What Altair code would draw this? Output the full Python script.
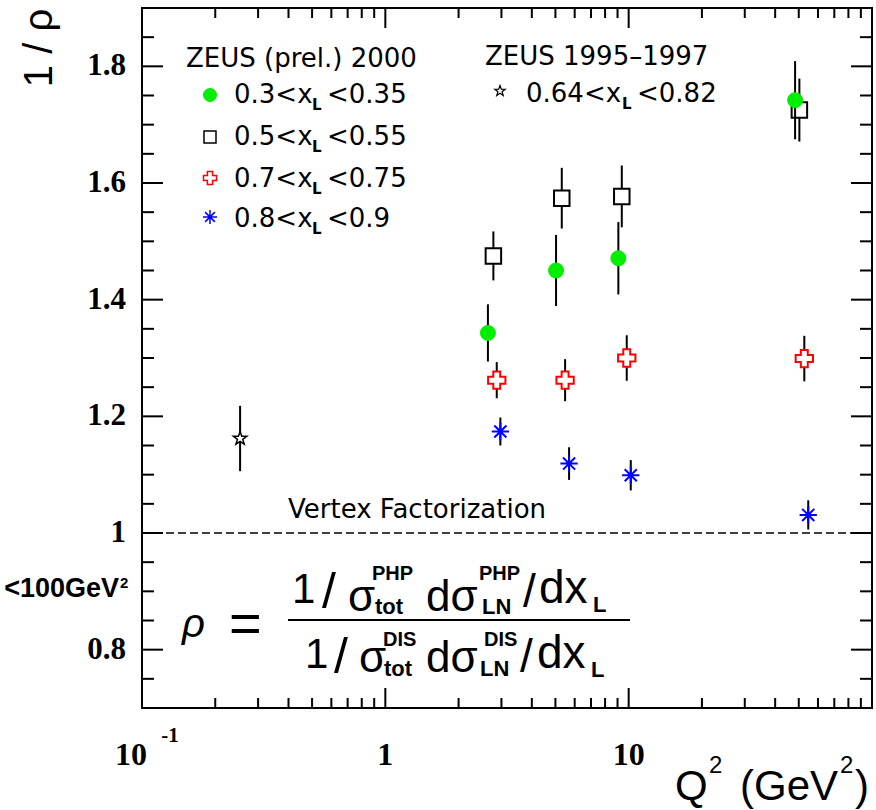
import altair as alt
import pandas as pd

# ZEUS (prel.) 2000 : 1/rho versus Q^2 for four leading-neutron x_L bins
q2_xl030 = [2.64, 5.03, 9.07, 48.3]        # 0.3 < x_L < 0.35
rinv_xl030 = [1.343, 1.450, 1.471, 1.742]
err_xl030 = [0.049, 0.061, 0.062, 0.067]

q2_xl050 = [2.78, 5.31, 9.37, 50.3]        # 0.5 < x_L < 0.55
rinv_xl050 = [1.475, 1.574, 1.577, 1.725]
err_xl050 = [0.042, 0.052, 0.053, 0.054]

q2_xl070 = [2.87, 5.48, 9.82, 52.7]        # 0.7 < x_L < 0.75
rinv_xl070 = [1.262, 1.262, 1.300, 1.299]
err_xl070 = [0.031, 0.036, 0.039, 0.039]

q2_xl080 = [2.97, 5.69, 10.2, 54.7]        # 0.8 < x_L < 0.9
rinv_xl080 = [1.174, 1.119, 1.099, 1.031]
err_xl080 = [0.024, 0.028, 0.026, 0.025]

# ZEUS 1995-1997 : 0.64 < x_L < 0.82
q2_old = [0.253]
rinv_old = [1.162]
err_old = [0.056]

# vertex factorization expectation
factorization_level = [1.0]

# axis ticks and their labels
y_major = [0.8, 1.0, 1.2, 1.4, 1.6, 1.8]
y_tick_text = ["0.8", "1", "1.2", "1.4", "1.6", "1.8"]
y_minor = [0.75, 0.85, 0.9, 0.95, 1.05, 1.1, 1.15, 1.25, 1.3, 1.35, 1.45,
           1.5, 1.55, 1.65, 1.7, 1.75, 1.85]
x_major = [1, 10]
x_minor = [0.2, 0.3, 0.4, 0.5, 0.6, 0.7, 0.8, 0.9,
           2, 3, 4, 5, 6, 7, 8, 9,
           20, 30, 40, 50, 60, 70, 80, 90]
x_tick_values = [1, 10]
x_tick_text = ["1", "10"]

# ---------------------------------------------------------------- layout
LEFT, TOP, W, H = 142, 8, 730, 700
SERIF = "Liberation Serif"
SANS = "Liberation Sans"
LEG = "DejaVu Sans"
GREEN, RED, BLUE = "#00ee00", "#ff0000", "#0000ff"
ASTERISK = "M-1,0L1,0M0,-1L0,1M-0.7,-0.7L0.7,0.7M-0.7,0.7L0.7,-0.7"
STAR = ("M0,-1L0.235,-0.324L0.951,-0.309L0.38,0.124L0.588,0.809L0,0.4"
        "L-0.588,0.809L-0.38,0.124L-0.951,-0.309L-0.235,-0.324Z")

XS = alt.Scale(type="log", domain=[0.1, 100], nice=False)
YS = alt.Scale(domain=[0.7, 1.9], nice=False, zero=False)
ONE = alt.Data(values=[{"k": 0}])


def text(t, x, y, size, font=SANS, weight="normal", align="left",
         style="normal", angle=0, baseline="alphabetic"):
    """Text placed in page pixels."""
    return alt.Chart(ONE).mark_text(
        align=align, baseline=baseline, font=font, fontSize=size,
        fontWeight=weight, fontStyle=style, angle=angle, color="black"
    ).encode(x=alt.value(x - LEFT), y=alt.value(y - TOP), text=alt.value(t))


def y_ticks(values, length):
    src = alt.Chart(pd.DataFrame({"v": values}))
    left = src.mark_rule(color="black", strokeWidth=2).encode(
        y=alt.Y("v:Q", scale=YS, axis=None), x=alt.value(0), x2=alt.value(length))
    right = src.mark_rule(color="black", strokeWidth=2).encode(
        y=alt.Y("v:Q", scale=YS, axis=None), x=alt.value(W - length), x2=alt.value(W))
    return [left, right]


def x_ticks(values, length):
    src = alt.Chart(pd.DataFrame({"v": values}))
    bottom = src.mark_rule(color="black", strokeWidth=2).encode(
        x=alt.X("v:Q", scale=XS, axis=None), y=alt.value(H - length), y2=alt.value(H))
    top = src.mark_rule(color="black", strokeWidth=2).encode(
        x=alt.X("v:Q", scale=XS, axis=None), y=alt.value(0), y2=alt.value(length))
    return [bottom, top]


def series(q2, r, err, shape, size, fill, stroke, sw, filled=True):
    df = pd.DataFrame({"q2": q2, "r": r})
    df["lo"] = [a - e for a, e in zip(r, err)]
    df["hi"] = [a + e for a, e in zip(r, err)]
    src = alt.Chart(df)
    bars = src.mark_rule(color="black", strokeWidth=2).encode(
        x=alt.X("q2:Q", scale=XS, axis=None),
        y=alt.Y("lo:Q", scale=YS, axis=None), y2="hi:Q")
    pts = src.mark_point(shape=shape, size=size, filled=filled, fill=fill,
                         stroke=stroke, strokeWidth=sw, opacity=1).encode(
        x=alt.X("q2:Q", scale=XS, axis=None),
        y=alt.Y("r:Q", scale=YS, axis=None))
    return [bars, pts]


def legend_marker(x, y, shape, size, fill, stroke, sw, filled=True):
    return alt.Chart(ONE).mark_point(shape=shape, size=size, filled=filled, fill=fill,
                                     stroke=stroke, strokeWidth=sw, opacity=1).encode(
        x=alt.value(x - LEFT), y=alt.value(y - TOP))


layers = []

# inward ticks on all four sides
layers += y_ticks(y_major, 21)
layers += y_ticks(y_minor, 12)
layers += x_ticks(x_major, 20)
layers += x_ticks(x_minor, 10)

# y tick labels
layers.append(
    alt.Chart(pd.DataFrame({"v": y_major, "t": y_tick_text})).mark_text(
        font=SERIF, fontWeight="bold", fontSize=31, baseline="middle",
        align="right", color="black").encode(
        y=alt.Y("v:Q", scale=YS, axis=None), x=alt.value(126 - LEFT), text="t:N"))

# x tick labels
layers.append(
    alt.Chart(pd.DataFrame({"q": x_tick_values, "t": x_tick_text})).mark_text(
        font=SERIF, fontWeight="bold", fontSize=32, baseline="alphabetic",
        align="center", color="black").encode(
        x=alt.X("q:Q", scale=XS, axis=None), y=alt.value(765 - TOP), text="t:N"))
layers.append(text("10", 131, 765, 32, font=SERIF, weight="bold", align="center"))
layers.append(text("-1", 170, 742, 21, font=SERIF, weight="bold", align="center"))

# factorization line
layers.append(
    alt.Chart(pd.DataFrame({"v": factorization_level})).mark_rule(
        color="black", strokeWidth=1.5, strokeDash=[8, 4]).encode(
        y=alt.Y("v:Q", scale=YS, axis=None), x=alt.value(0), x2=alt.value(W)))
layers.append(text("Vertex Factorization", 288, 518, 26, font=LEG))

# data
layers += series(q2_xl050, rinv_xl050, err_xl050, "square", 240, "white", "black", 2)
layers += series(q2_xl030, rinv_xl030, err_xl030, "circle", 225, GREEN, GREEN, 1)
layers += series(q2_xl070, rinv_xl070, err_xl070, "cross", 300, "white", RED, 2)
layers += series(q2_xl080, rinv_xl080, err_xl080, ASTERISK, 300, "none", BLUE, 2, filled=False)
layers += series(q2_old, rinv_old, err_old, STAR, 200, "white", "black", 1.5)

# axis titles
layers.append(text("1 / ρ", 52, 48, 40, angle=270, align="center"))
layers.append(text("Q", 675, 800, 42))
layers.append(text("2", 709, 773, 24))
layers.append(text("(GeV", 740, 800, 42))
layers.append(text("2", 840, 773, 24))
layers.append(text(")", 855, 800, 42))
layers.append(text("<100GeV", 119, 597, 27, weight="bold", align="right"))
layers.append(text("2", 120, 588, 15, weight="bold"))

# legend: ZEUS (prel.) 2000
layers.append(text("ZEUS (prel.) 2000", 186, 67, 26, font=LEG))
legend_rows = [
    ("0.3<x", "<0.35", 103, 95, "circle", 169, GREEN, GREEN, 1, True),
    ("0.5<x", "<0.55", 145, 137, "square", 144, "white", "black", 1.5, True),
    ("0.7<x", "<0.75", 187, 178, "cross", 169, "white", RED, 1.5, True),
    ("0.8<x", "<0.9", 227, 217, ASTERISK, 196, "none", BLUE, 1.5, False),
]
for pre, post, base, my, shp, sz, fl, st, sw, fd in legend_rows:
    layers.append(legend_marker(210, my, shp, sz, fl, st, sw, fd))
    layers.append(text(pre, 234, base, 26, font=LEG))
    layers.append(text("L", 312, base + 7, 15, font=LEG, weight="bold"))
    layers.append(text(post, 327, base, 26, font=LEG))

# legend: ZEUS 1995-1997
layers.append(text("ZEUS 1995–1997", 485, 65, 26, font=LEG))
layers.append(legend_marker(500, 91, STAR, 120, "white", "black", 1.2))
layers.append(text("0.64<x", 526, 102, 26, font=LEG))
layers.append(text("L", 622, 109, 15, font=LEG, weight="bold"))
layers.append(text("<0.82", 637, 102, 26, font=LEG))

# definition of rho
layers.append(text("ρ", 182, 637, 40, style="italic"))
layers.append(text("=", 229, 642, 56))
layers.append(alt.Chart(ONE).mark_rule(color="black", strokeWidth=2).encode(
    x=alt.value(288 - LEFT), x2=alt.value(630 - LEFT), y=alt.value(620 - TOP)))
formula = [
    # numerator
    ("1", 292, 603, 42, "normal"), ("/", 322, 608, 50, "normal"),
    ("σ", 348, 611, 44, "normal"), ("PHP", 372, 580, 20, "bold"),
    ("tot", 375, 614, 22, "bold"), ("dσ", 426, 611, 44, "normal"),
    ("PHP", 479, 580, 20, "bold"), ("LN", 482, 614, 22, "bold"),
    ("/", 523, 607, 46, "normal"), ("dx", 539, 603, 46, "normal"),
    ("L", 593, 612, 22, "bold"),
    # denominator
    ("1", 305, 668, 42, "normal"), ("/", 334, 673, 50, "normal"),
    ("σ", 359, 672, 44, "normal"), ("DIS", 383, 646, 20, "bold"),
    ("tot", 384, 676, 22, "bold"), ("dσ", 426, 672, 44, "normal"),
    ("DIS", 484, 646, 20, "bold"), ("LN", 480, 676, 22, "bold"),
    ("/", 520, 672, 46, "normal"), ("dx", 537, 668, 46, "normal"),
    ("L", 591, 677, 22, "bold"),
]
for t, x, y, s, wgt in formula:
    layers.append(text(t, x, y, s, weight=wgt))

chart = alt.layer(*layers).properties(
    width=W, height=H, background="white",
    padding={"left": LEFT, "top": TOP, "right": 876 - LEFT - W, "bottom": 810 - TOP - H},
    autosize=alt.AutoSizeParams(type="none"),
).configure_view(stroke="black", strokeWidth=2)

chart.save("out.html", embed_options={"renderer": "svg", "actions": False})
